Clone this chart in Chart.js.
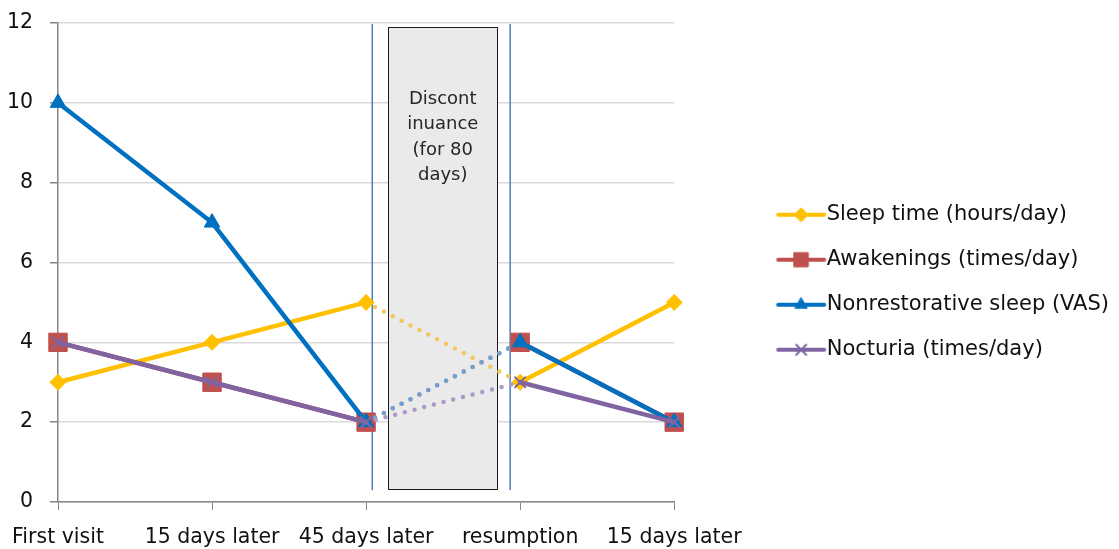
<!DOCTYPE html>
<html lang="en">
<head>
    <meta charset="UTF-8">
    <title>Sleep symptoms over time</title>
    <script src="https://cdn.jsdelivr.net/npm/chart.js"></script>
    <style>
        html, body { margin: 0; padding: 0; background: #fff; }
        .wrap { width: 1119px; height: 549px; position: relative; }
    </style>
</head>
<body>
    <div class="wrap"><canvas id="sleepChart"></canvas></div>

    <script>
        // --- data ---
        const labels = ['First visit', '15 days later', '45 days later', 'resumption', '15 days later'];
        const sleepTime = [3, 4, 5, 3, 5];
        const awakenings = [4, 3, 2, 4, 2];
        const nonrestorative = [10, 7, 2, 4, 2];
        const nocturia = [4, 3, 2, 3, 2];
        const yTicks = [0, 2, 4, 6, 8, 10, 12];
        const boxText = ['Discont', 'inuance', '(for 80', 'days)'];

        // segment between these two points is the break (dotted)
        const breakIndex = 2;

        const FONT = '"DejaVu Sans", "Noto Sans", sans-serif';
        const FONT_SIZE = 20.5;

        const series = [
            { label: 'Sleep time (hours/day)', data: sleepTime, color: '#FFC000', light: '#F2C95E', style: 'rectRot', radius: 8, order: 4 },
            { label: 'Awakenings (times/day)', data: awakenings, color: '#C0504D', light: '#D58A88', style: 'rect', radius: 13, order: 3 },
            { label: 'Nonrestorative sleep (VAS)', data: nonrestorative, color: '#0070C0', light: '#6CA2D3', style: 'triangle', radius: 9, order: 2 },
            { label: 'Nocturia (times/day)', data: nocturia, color: '#8064A2', light: '#AC9AC6', style: 'crossRot', radius: 8, order: 1 }
        ];

        // legend icon: short line with the marker in the middle.
        // the legend box is wide (it also makes the gap to the plot), the icon sits at its right end
        const LEGEND_BOX = 118;
        const ICON_W = 150;
        function makeIcon(s) {
            const c = document.createElement('canvas');
            c.width = ICON_W; c.height = 22;
            const g = c.getContext('2d');
            g.strokeStyle = s.color;
            g.lineWidth = 4;
            g.lineCap = 'round';
            g.beginPath(); g.moveTo(ICON_W - 54, 11); g.lineTo(ICON_W - 8, 11); g.stroke();
            g.fillStyle = s.color;
            g.lineWidth = s.style === 'crossRot' ? 2 : 1;
            Chart.helpers.drawPoint(g, { pointStyle: s.style, radius: s.style === 'rect' ? 10 : 7, rotation: 0, borderWidth: g.lineWidth }, ICON_W - 31, 11);
            return c;
        }
        const icons = series.map(makeIcon);

        const datasets = series.map(s => ({
            label: s.label,
            data: s.data,
            order: s.order,
            borderColor: s.color,
            backgroundColor: s.color,
            borderWidth: 4.5,
            borderCapStyle: 'round',
            pointStyle: s.style,
            pointRadius: s.radius,
            pointHoverRadius: s.radius,
            pointBorderWidth: s.style === 'crossRot' ? 2 : 1,
            pointBackgroundColor: s.color,
            pointBorderColor: s.color,
            tension: 0,
            segment: {
                borderColor: ctx => ctx.p0DataIndex === breakIndex ? s.light : undefined,
                borderDash: ctx => ctx.p0DataIndex === breakIndex ? [0, 10] : undefined
            }
        }));

        // break markers: two thin blue lines and a grey text box, placed on the x scale between index 2 and 3
        const breakLines = [2.04, 2.935];
        const boxX = [2.145, 2.85];
        const boxY = [0.33, 11.9];

        const breakPlugin = {
            id: 'breakBox',
            beforeDatasetsDraw(chart) {
                const { ctx, scales: { x, y } } = chart;
                ctx.save();
                const left = x.getPixelForValue(boxX[0]);
                const right = x.getPixelForValue(boxX[1]);
                const top = y.getPixelForValue(boxY[1]);
                const bottom = y.getPixelForValue(boxY[0]);
                ctx.fillStyle = '#EAEAEA';
                ctx.fillRect(left, top, right - left, bottom - top);
                ctx.strokeStyle = '#1a1a1a';
                ctx.lineWidth = 1;
                ctx.strokeRect(Math.round(left) + 0.5, Math.round(top) + 0.5, Math.round(right - left), Math.round(bottom - top));

                ctx.strokeStyle = '#4A7EBB';
                ctx.lineWidth = 1.5;
                breakLines.forEach(v => {
                    const px = x.getPixelForValue(v);
                    ctx.beginPath();
                    ctx.moveTo(px, y.getPixelForValue(12) + 1);
                    ctx.lineTo(px, y.getPixelForValue(0.3));
                    ctx.stroke();
                });

                ctx.fillStyle = '#262626';
                ctx.font = '18px ' + FONT;
                ctx.textAlign = 'center';
                ctx.textBaseline = 'middle';
                const cx = (left + right) / 2;
                boxText.forEach((t, i) => ctx.fillText(t, cx, top + 72 + i * 25.5));
                ctx.restore();
            }
        };

        new Chart(document.getElementById('sleepChart'), {
            type: 'line',
            data: { labels, datasets },
            plugins: [breakPlugin],
            options: {
                responsive: true,
                maintainAspectRatio: false,
                animation: false,
                layout: { autoPadding: false, padding: { left: 0, top: 23, right: 0, bottom: 0 } },
                plugins: {
                    tooltip: { enabled: false },
                    legend: {
                        position: 'right',
                        align: 'start',
                        maxWidth: 500,
                        title: { display: true, text: '', font: { size: 1 }, padding: { top: 0, bottom: 156 } },
                        labels: {
                            usePointStyle: true,
                            pointStyleWidth: LEGEND_BOX,
                            padding: 24,
                            color: '#111',
                            font: { family: FONT, size: 21 },
                            sort: (a, b) => a.datasetIndex - b.datasetIndex,
                            generateLabels: chart => Chart.defaults.plugins.legend.labels.generateLabels(chart)
                                .map(item => ({ ...item, pointStyle: icons[item.datasetIndex] }))
                        }
                    }
                },
                scales: {
                    x: {
                        offset: false,
                        afterFit: axis => { axis.height = 47; axis.paddingLeft = 0; axis.paddingRight = 0; },
                        grid: { drawOnChartArea: false, drawTicks: true, tickLength: 8, tickColor: '#868686' },
                        border: { color: '#868686', width: 1.5 },
                        ticks: { color: '#111', padding: 16, maxRotation: 0, autoSkip: false, font: { family: FONT, size: FONT_SIZE, lineHeight: 1.12 } }
                    },
                    y: {
                        min: 0,
                        max: 12,
                        afterBuildTicks: axis => { axis.ticks = yTicks.map(v => ({ value: v })); },
                        afterFit: axis => { axis.width = 58; axis.paddingTop = 0; axis.paddingBottom = 0; },
                        grid: { color: '#D9D9D9', lineWidth: 1.5, tickLength: 8, tickColor: '#868686' },
                        border: { color: '#868686', width: 1.5 },
                        ticks: { color: '#111', padding: 17, font: { family: FONT, size: FONT_SIZE } }
                    }
                }
            }
        });
    </script>
</body>
</html>
